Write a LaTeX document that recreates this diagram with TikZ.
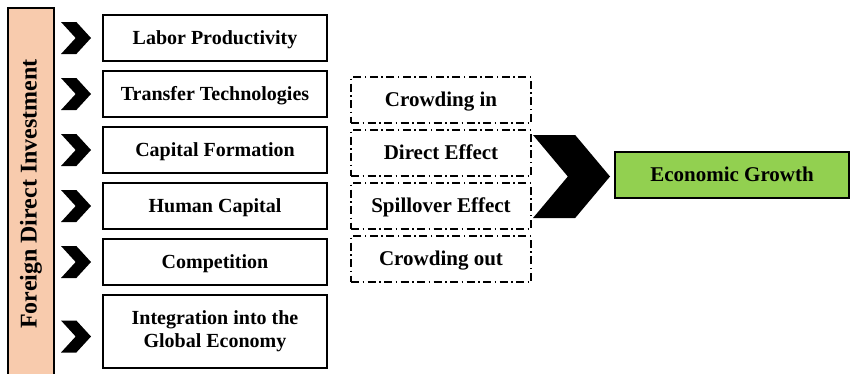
\documentclass[tikz,border=0pt]{standalone}
\usepackage{fontspec}
\setmainfont{Liberation Serif}
\usetikzlibrary{
    positioning,
    shapes.symbols
}
\definecolor{fdipeach}{HTML}{F8CBAD}
\definecolor{growthgreen}{HTML}{92D050}
\tikzset{%
    channel/.style={%
        rectangle,
        draw,
        line width=1.2pt,
        inner sep = 0pt,
        outer sep = 0pt,
        minimum width=224pt,
        minimum height=46pt,
        align=center,
        text height=14pt,
        text depth=2pt,
        font=\fontsize{20}{23}\selectfont\bfseries
    },
    effect/.style={%
        channel,
        line width=1.3pt,
        dash pattern=on 8pt off 3.5pt on 1.5pt off 3.5pt,
        minimum width=180pt,
        font=\fontsize{21}{24}\selectfont\bfseries
    },
    outcome/.style={%
        channel,
        fill=growthgreen,
        minimum width=234pt,
        font=\fontsize{21}{24}\selectfont\bfseries
    },
    fdi bar/.style={%
        rectangle,
        draw,
        line width=1.2pt,
        fill=fdipeach,
        rotate=90,
        inner sep = 0pt,
        minimum width=372pt,
        minimum height=46pt,
        font=\fontsize{24}{28}\selectfont\bfseries
    },
    chevron/.style={%
        signal,
        signal from=west,
        signal to=east,
        signal pointer angle=95,
        fill=black,
        inner sep = 0pt,
        outer sep = 0pt,
        minimum width=30pt,
        minimum height=32pt
    },
    big chevron/.style={%
        chevron,
        signal pointer angle=100,
        minimum width=77pt,
        minimum height=83pt
    },
}

\begin{document}
\begin{tikzpicture}[x=1pt, y=-1pt]
    \useasboundingbox (0,0) rectangle (850,373);

    \node[fdi bar] (fdi) at (31,194) {Foreign Direct Investment};

    \node[channel] (labor) at (215,38) {Labor Productivity};
    \node[channel, below=10pt of labor] (transfer) {Transfer Technologies};
    \node[channel, below=10pt of transfer] (capital) {Capital Formation};
    \node[channel, below=10pt of capital] (human) {Human Capital};
    \node[channel, below=10pt of human] (competition) {Competition};
    \node[channel, below=10pt of competition, minimum height=73pt,
        text height={}, text depth={}] (integration) {Integration into the\\Global Economy};

    \node[chevron, left=12pt of labor] (ch1) {};
    \node[chevron, left=12pt of transfer] (ch2) {};
    \node[chevron, left=12pt of capital] (ch3) {};
    \node[chevron, left=12pt of human] (ch4) {};
    \node[chevron, left=12pt of competition] (ch5) {};
    \node[chevron, left=12pt of integration, yshift=-5pt] (ch6) {};

    \node[effect] (crowdin) at (441,100) {Crowding in};
    \node[effect, below=7pt of crowdin] (direct) {Direct Effect};
    \node[effect, below=7pt of direct] (spill) {Spillover Effect};
    \node[effect, below=7pt of spill] (crowdout) {Crowding out};

    \node[big chevron] (toward) at (571.5,176.5) {};

    \node[outcome] (growth) at (732,175) {Economic Growth};
\end{tikzpicture}
\end{document}
